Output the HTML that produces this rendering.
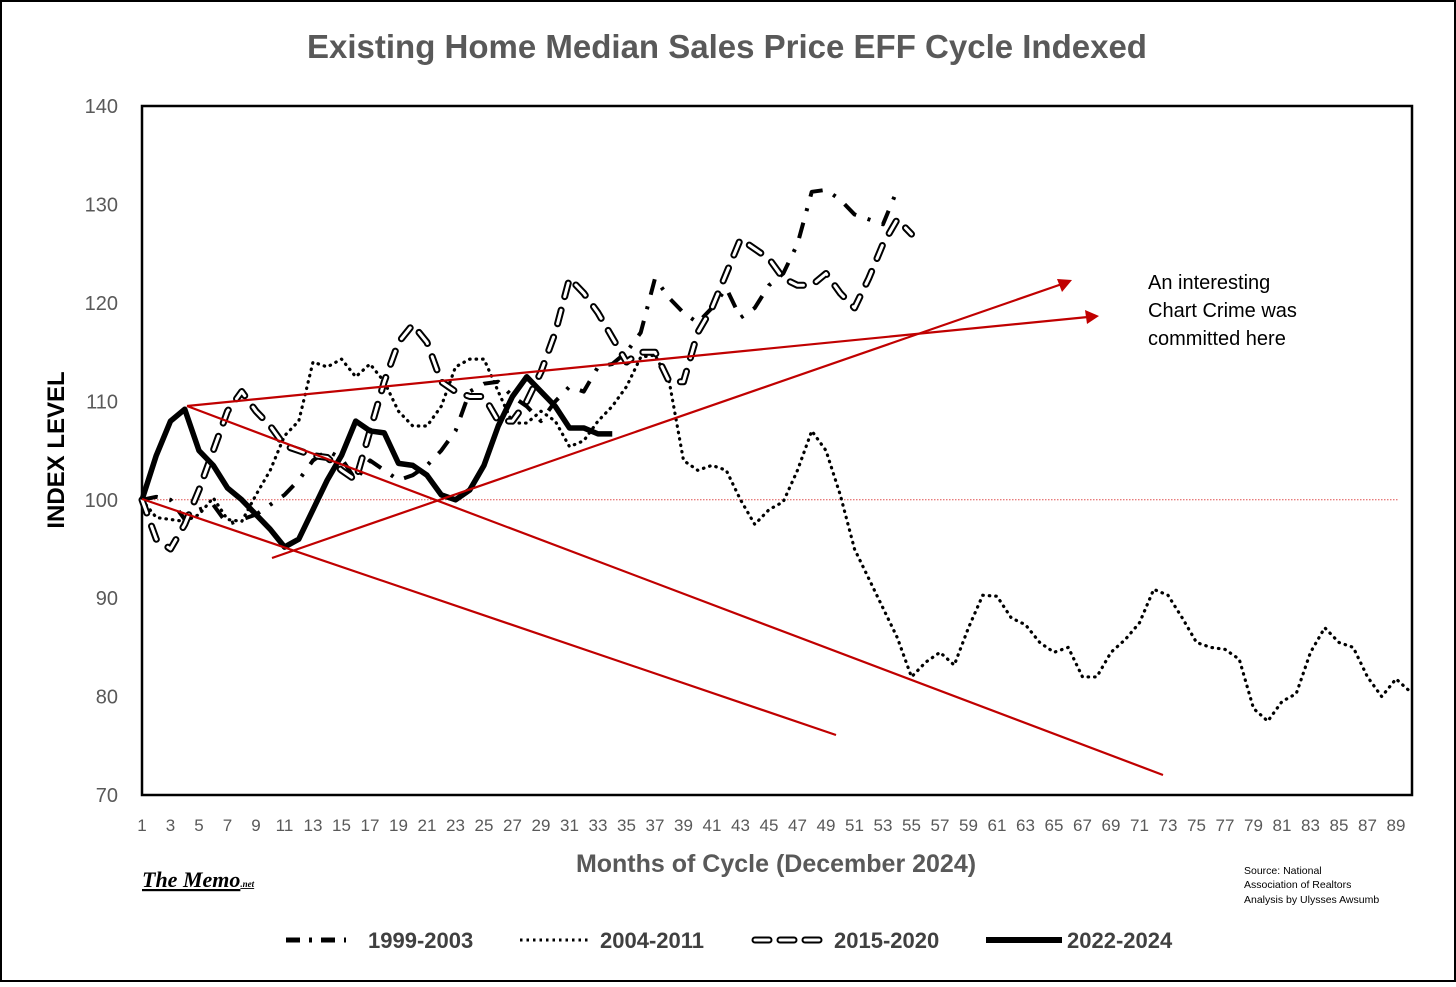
<!DOCTYPE html>
<html><head><meta charset="utf-8"><style>
html,body{margin:0;padding:0;background:#fff;}
body{width:1456px;height:982px;overflow:hidden;font-family:"Liberation Sans",sans-serif;}
</style></head><body>
<svg id="chart" width="1456" height="982" xmlns="http://www.w3.org/2000/svg">
<rect x="1" y="1" width="1454" height="980" fill="#fff" stroke="#000" stroke-width="2"/>
<text x="727" y="58" text-anchor="middle" font-size="33" font-weight="bold" fill="#595959" font-family="Liberation Sans Narrow, Liberation Sans, sans-serif">Existing Home Median Sales Price EFF Cycle Indexed</text>
<text transform="translate(64,450) rotate(-90)" text-anchor="middle" font-size="24" font-weight="bold" fill="#000" font-family="Liberation Sans Narrow, Liberation Sans, sans-serif">INDEX LEVEL</text>
<text x="776" y="872" text-anchor="middle" font-size="25" font-weight="bold" fill="#595959" font-family="Liberation Sans Narrow, Liberation Sans, sans-serif">Months of Cycle (December 2024)</text>
<g id="yticks"></g><g id="xticks"></g>
<rect x="142" y="106" width="1270" height="689" fill="none" stroke="#000" stroke-width="2.5"/>
<line x1="142" y1="499.8" x2="1398" y2="499.8" stroke="#e05050" stroke-width="1" stroke-dasharray="1.5,1.5"/>
<g id="series"></g>
<g stroke="#c00000" stroke-width="2.2" fill="none">
<line x1="142" y1="499" x2="836" y2="735"/>
<line x1="187" y1="406" x2="1163" y2="775"/>
<line x1="187" y1="406" x2="1088" y2="317"/>
<line x1="272" y1="558" x2="1062" y2="284"/>
</g>
<polygon points="1099,316 1085,310 1087,324" fill="#c00000"/>
<polygon points="1072,280 1057,279 1062,292" fill="#c00000"/>
<text font-size="20" fill="#000"><tspan x="1148" y="289">An interesting</tspan><tspan x="1148" y="317">Chart Crime was</tspan><tspan x="1148" y="345">committed here</tspan></text>
<text x="142" y="887" font-size="22" font-style="italic" font-weight="bold" font-family="Liberation Serif, serif" text-decoration="underline">The Memo<tspan font-size="9">.net</tspan></text>
<text font-size="10.5" fill="#000" font-family="Liberation Sans Narrow, Liberation Sans, sans-serif"><tspan x="1244" y="874">Source: National</tspan><tspan x="1244" y="888">Association of Realtors</tspan><tspan x="1244" y="903">Analysis by Ulysses Awsumb</tspan></text>
<g font-size="22" font-weight="bold" fill="#404040" font-family="Liberation Sans Narrow, Liberation Sans, sans-serif">
<g><line x1="286" y1="940" x2="346" y2="940" stroke="#000" stroke-width="5" stroke-dasharray="14,9,3,9"/><text x="368" y="948">1999-2003</text></g>
<g><line x1="520" y1="940" x2="590" y2="940" stroke="#000" stroke-width="3" stroke-dasharray="2.5,4"/><text x="600" y="948">2004-2011</text></g>
<g><line x1="755" y1="940" x2="823" y2="940" stroke="#000" stroke-width="7" stroke-dasharray="14,11" stroke-linecap="round"/><line x1="755" y1="940" x2="823" y2="940" stroke="#fff" stroke-width="3" stroke-dasharray="14,11" stroke-linecap="round"/><text x="834" y="948">2015-2020</text></g>
<g><line x1="986" y1="940" x2="1062" y2="940" stroke="#000" stroke-width="6"/><text x="1067" y="948">2022-2024</text></g>
</g>
</svg>
<script>
const yTicks=[70,80,90,100,110,120,130,140];
const s1999=[100,100.3,100,98,99,99.5,97.5,98,98.5,99.5,100.5,102,104,105,104.2,102,104,103,102,102.5,103.5,105,107,111,111.8,112,110.5,109.5,108,110,111.5,111,113.5,113.8,115,117,122.5,120.5,119,118,119.5,121.5,118.5,119.5,121.8,123,126,131.3,131.5,130.5,129,128.5,128,131.5];
const s2004=[100,98.2,98,97.8,98.5,100.2,98,97.8,100.5,103,106.5,108,114,113.5,114.3,112.5,113.8,112,109,107.5,107.5,109.5,113.5,114.3,114.3,111,107.8,107.8,109,108,105.4,106,108,109.5,111.5,114.5,114.7,112,104,103,103.5,103,100,97.5,99,99.8,103,107,105,100.5,95,92,89,86,82,83.5,84.5,83.2,87,90.3,90.2,88,87.3,85.5,84.5,85,82,82,84.5,85.8,87.5,90.9,90.3,88,85.5,85,84.8,83.8,78.8,77.5,79.5,80.3,84.5,87,85.5,85,82,80,81.8,80.5];
const s2015=[100,96,95,97.5,101,105,109,111,109,107.5,105.5,105,104.5,104.3,103,102,107,112,116,117.8,116,112,111,110.5,110.5,108,108,110,113,117,122.5,121,119,116.5,114,115,115,112,112,117,119.5,123,126.5,125.5,124.5,122.5,121.8,121.8,123,121,119.5,122.5,126,128.5,127];
const s2022=[100,104.5,108,109.2,105,103.5,101.2,100,98.5,97,95.2,96,99,102,104.5,108,107,106.8,103.7,103.5,102.5,100.5,100,101,103.5,107.5,110.5,112.5,111,109.5,107.3,107.3,106.7,106.7];
const NS="http://www.w3.org/2000/svg";
const xs=m=>142+(m-1)*14.25;
const ys=v=>795-(v-70)*9.84;
const yg=document.getElementById('yticks');
yTicks.forEach(v=>{const t=document.createElementNS(NS,'text');


t.setAttribute('x',118);t.setAttribute('y',ys(v)+7);t.setAttribute('text-anchor','end');t.setAttribute('font-size','20');t.setAttribute('fill','#595959');t.textContent=v;yg.appendChild(t);});
const xg=document.getElementById('xticks');
for(let m=1;m<=89;m+=2){const t=document.createElementNS(NS,'text');


t.setAttribute('x',xs(m));t.setAttribute('y',831);t.setAttribute('text-anchor','middle');t.setAttribute('font-size','17');t.setAttribute('fill','#595959');t.setAttribute('font-family','Liberation Sans Narrow, Liberation Sans, sans-serif');t.textContent=m;xg.appendChild(t);}
const sg=document.getElementById('series');
function addLine(data,name,w,dash,color,cap){const p=document.createElementNS(NS,'polyline');


p.setAttribute('points',data.map((v,i)=>xs(i+1)+','+ys(v)).join(' '));
p.setAttribute('fill','none');p.setAttribute('stroke',color);p.setAttribute('stroke-width',w);p.setAttribute('stroke-linejoin','round');
if(cap)p.setAttribute('stroke-linecap',cap);
if(dash)p.setAttribute('stroke-dasharray',dash);sg.appendChild(p);}
addLine(s2004,'series-2004-2011',3.2,'0.5,6','#000','round');
addLine(s1999,'series-1999-2003',4,'16,12,3,12','#000');
addLine(s2015,'series-2015-2020',7,'14,14','#000','round');
addLine(s2015,'series-2015-2020-inner',3,'14,14','#fff','round');
addLine(s2022,'series-2022-2024',5.5,null,'#000');
</script>
</body></html>
